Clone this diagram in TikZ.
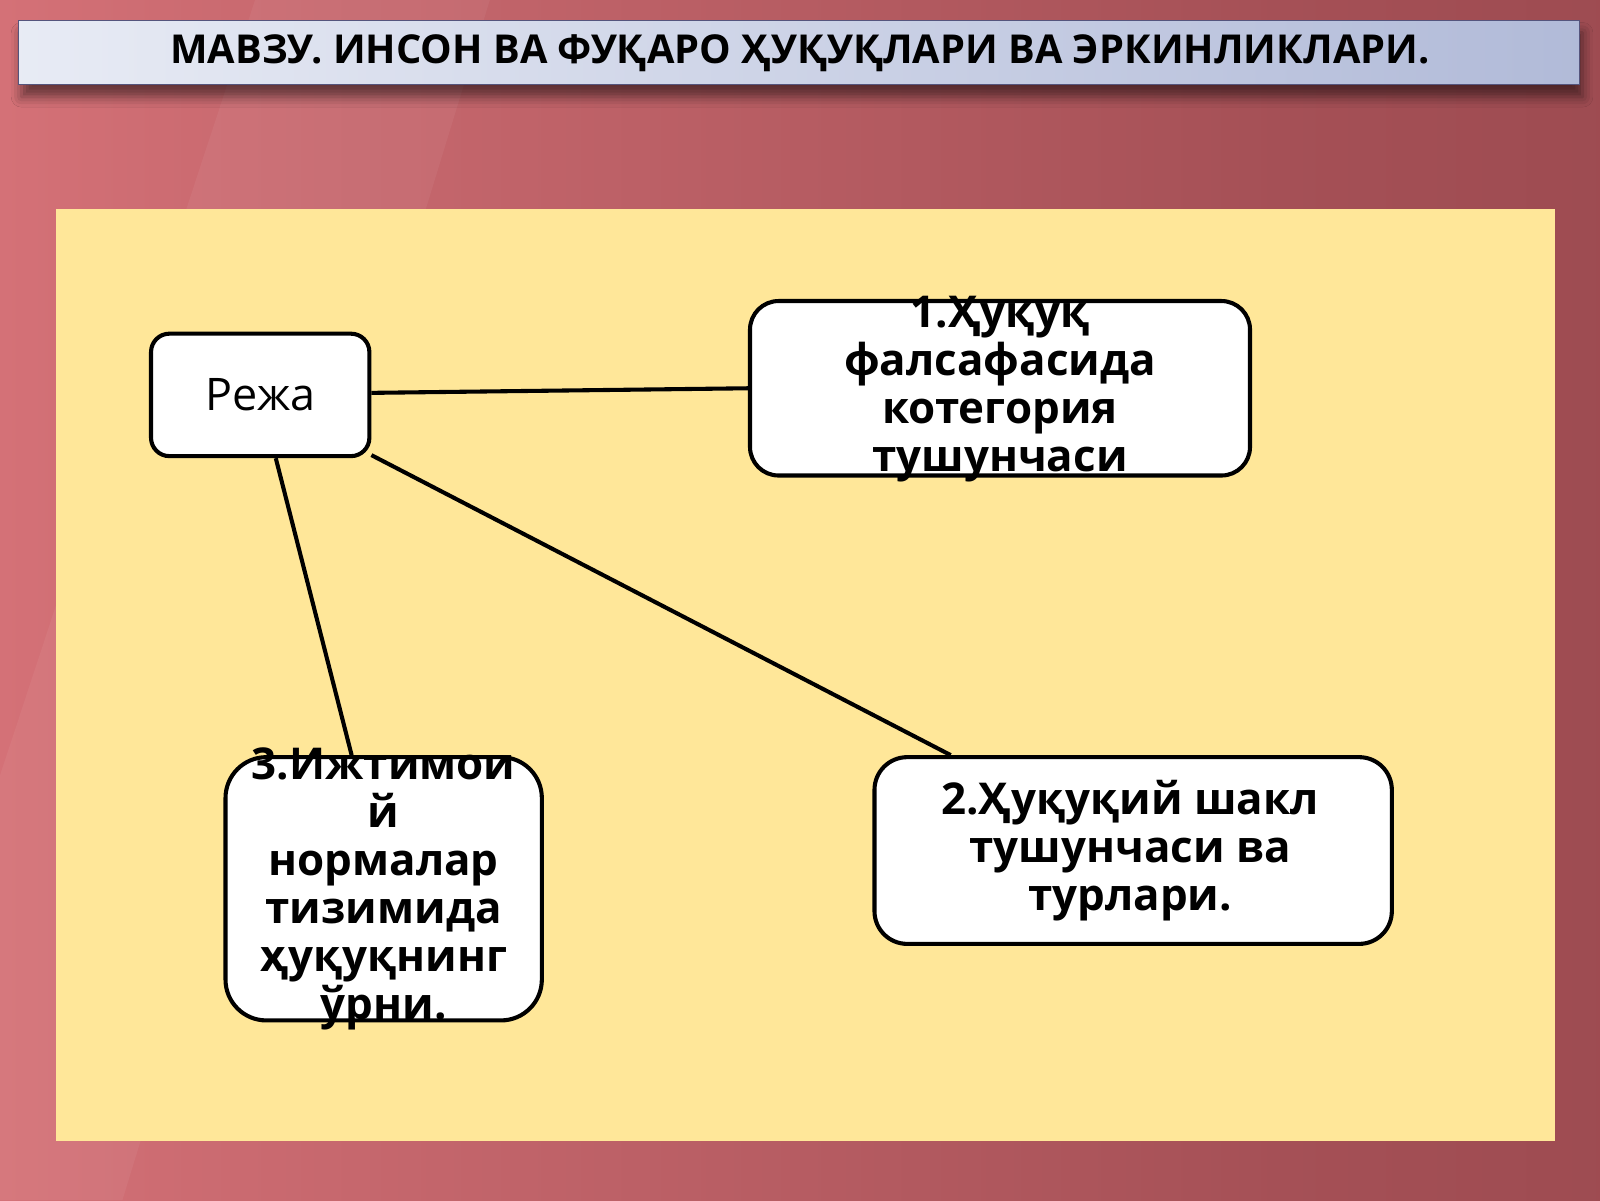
\documentclass[tikz,border=0pt]{standalone}
\usepackage{fontspec}
\setmainfont{Open Sans}
\usetikzlibrary{calc,shadows.blur}
\definecolor{bgL}{RGB}{248,138,143}
\definecolor{bgM}{RGB}{205,108,114}
\definecolor{bgN}{RGB}{165,80,86}
\definecolor{bgR}{RGB}{140,64,70}
\definecolor{panel}{RGB}{255,231,153}
\definecolor{titL}{RGB}{246,248,252}
\definecolor{titR}{RGB}{150,162,202}
\definecolor{titB}{RGB}{85,85,125}
\pgfdeclarehorizontalshading{bgshade}{100bp}{color(0bp)=(bgL); color(30bp)=(bgM); color(65bp)=(bgN); color(100bp)=(bgR)}
\pgfdeclarehorizontalshading{titshade}{100bp}{color(0bp)=(titL); color(25bp)=(titL!85!titR); color(100bp)=(titR)}
\tikzset{
  boxstyle/.style={draw=black, line width=4pt, fill=white, inner sep=0pt},
  boxtext/.style={font=\bfseries\fontsize{43}{47}\selectfont, align=center, inner sep=0pt},
  link/.style={draw=black, line width=4pt}
}
\begin{document}
\begin{tikzpicture}[x=1pt,y=-1pt]
\useasboundingbox (0,0) rectangle (1568,1176);
% background
\shade[shading=bgshade] (0,0) rectangle (1568,1176);
\fill[white, opacity=0.05] (250,0) -- (480,0) -- (120,1176) -- (0,1176) -- (0,760) -- cycle;
% title bar
\shade[shading=titshade, draw=titB, line width=1.5pt,
  blur shadow={shadow xshift=3pt, shadow yshift=-12pt, shadow blur radius=10pt, shadow opacity=50}]
  (18,20) rectangle (1548,83);
\node[font=\bfseries\fontsize{39}{44}\selectfont, inner sep=0pt] (title) at (784,52) {МАВЗУ. ИНСОН ВА ФУҚАРО ҲУҚУҚЛАРИ ВА ЭРКИНЛИКЛАРИ.};
% panel
\fill[panel] (55,205) rectangle (1524,1118);
% boxes
\node[boxstyle, rounded corners=18pt, minimum width=214pt, minimum height=120pt] (reja) at (255,387) {};
\node[boxstyle, rounded corners=28pt, minimum width=490pt, minimum height=171pt] (b1) at (980,380.5) {};
\node[boxstyle, rounded corners=32pt, minimum width=507pt, minimum height=183pt] (b2) at (1110.5,833.5) {};
\node[boxstyle, rounded corners=40pt, minimum width=310pt, minimum height=258pt] (b3) at (376,871) {};
% connectors
\coordinate (r1) at ($(reja.east)+(0,-2)$);
\coordinate (r2) at ($(reja.south east)+(0,-3)$);
\coordinate (r3) at ($(reja.south west)!0.57!(reja.south east)$);
\coordinate (t2) at ($(b2.north west)!0.15!(b2.north east)$);
\coordinate (t3) at ($(b3.north west)!0.40!(b3.north east)$);
\draw[link] (r1) -- (b1.west);
\draw[link] (r2) -- (t2);
\draw[link] (r3) -- (t3);
% texts
\node[font=\fontsize{44}{48}\selectfont, inner sep=0pt] (rejat) at (reja) {Режа};
\node[boxtext] (b1t) at ($(b1)+(0,1)$) {1.Ҳуқуқ\\фалсафасида\\котегория\\тушунчаси};
\node[boxtext] (b2t) at ($(b2)+(-3,0)$) {2.Ҳуқуқий шакл\\тушунчаси ва\\турлари.};
\node[boxtext] (b3t) at ($(b3)+(0,0)$) {3.Ижтимои\\й\\нормалар\\тизимида\\ҳуқуқнинг\\ўрни.};
\end{tikzpicture}
\end{document}
